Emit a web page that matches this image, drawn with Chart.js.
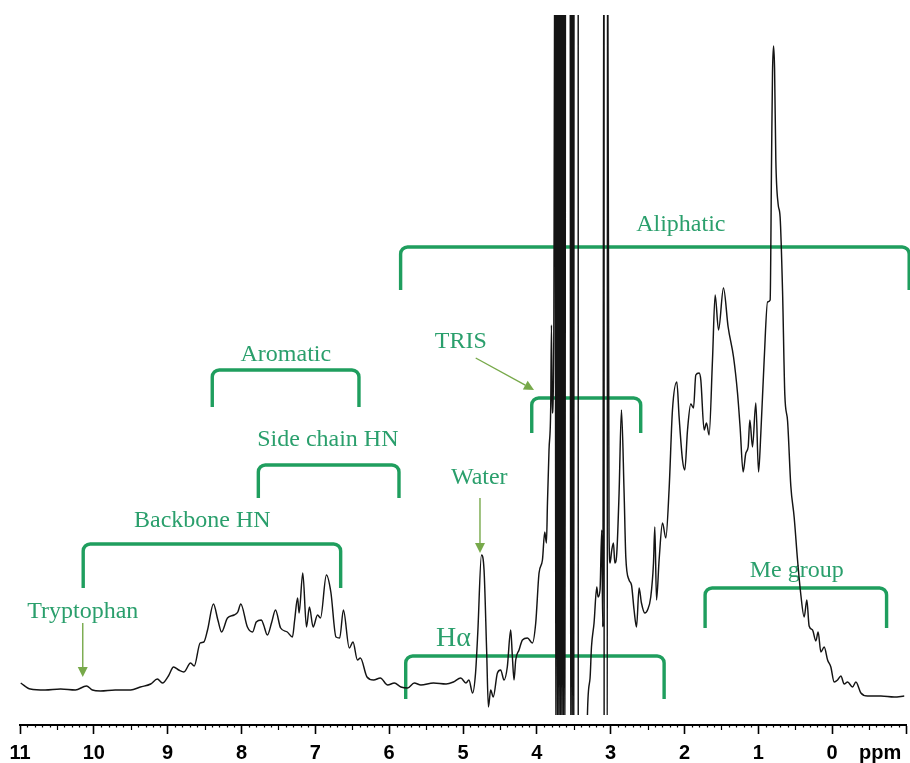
<!DOCTYPE html>
<html><head><meta charset="utf-8">
<script src="https://cdn.jsdelivr.net/npm/chart.js@4.4.1/dist/chart.umd.min.js"></script>
<style>html,body{margin:0;padding:0;background:#fff;}canvas{display:block;}</style>
</head><body>
<canvas id="c" width="910" height="763"></canvas>
<script>
// Chemical shift (ppm) and intensity (arbitrary units)
const ppm = [
 10.99,10.86,10.66,10.45,10.25,10.10,10.02,9.91,9.71,9.50,9.37,9.23,9.14,9.07,8.99,8.92,8.85,8.78,8.69,8.64,
 8.56,8.51,8.46,8.38,8.32,8.27,8.19,8.10,8.05,8.01,7.92,7.85,7.80,7.73,7.70,7.65,7.59,7.54,7.47,7.38,
 7.31,7.28,7.24,7.22,7.17,7.12,7.08,7.03,6.97,6.93,6.85,6.79,6.72,6.67,6.62,6.54,6.49,6.43,6.39,6.30,
 6.21,6.12,6.02,5.93,5.84,5.75,5.66,5.57,5.40,5.23,5.13,5.03,4.96,4.92,4.87,4.83,4.80,4.75,4.715,4.68,
 4.656,4.625,4.59,4.534,4.49,4.444,4.40,4.354,4.331,4.309,4.286,4.241,4.195,4.127,4.06,4.015,3.97,3.924,3.893,3.870,
 3.856,3.835,3.812,3.802,3.791,3.771,
 3.752,3.742,3.731,3.720,3.710,3.700,3.690,3.680,3.670,3.660,3.650,3.640,3.630,3.620,3.610,
 3.550,3.540,3.530,3.520,3.510,3.500,3.496,3.440,3.439,3.330,
 3.314,3.279,3.260,3.225,3.188,3.171,3.144,3.121,3.107,3.090,3.088,3.046,3.043,
 3.022,3.008,2.985,2.962,2.944,2.917,2.886,2.854,2.818,2.795,2.751,2.718,2.683,2.650,2.615,2.583,2.538,2.501,2.457,2.420,
 2.402,2.379,2.344,2.298,2.253,2.209,2.163,2.104,2.073,2.027,1.996,1.959,1.915,1.878,1.847,1.802,1.779,1.734,1.702,1.667,
 1.621,1.585,1.539,1.472,1.409,1.336,1.282,1.247,1.206,1.169,1.138,1.115,1.079,1.034,0.997,0.966,0.921,0.875,0.840,0.821,
 0.808,0.794,0.780,0.763,0.732,0.705,0.672,0.641,0.604,0.560,0.515,0.469,0.424,0.379,0.343,0.312,0.266,0.221,0.190,0.153,
 0.108,0.062,0.018,-0.027,-0.073,-0.118,-0.163,-0.209,-0.276,-0.321,-0.389,-0.480,-0.660,-0.840,-0.976
];
const intensity = [
 42,36,35,36,35,39,35,34,35,35,38,41,46,42,49,58,55,53,62,59,
 82,83,95,121,105,93,107,110,113,121,98,93,103,105,100,90,103,115,97,93,
 88,105,127,112,152,98,118,98,110,107,150,133,88,87,115,77,83,65,67,48,
 45,47,40,42,38,37,42,40,42,41,43,47,42,45,32,52,92,170,155,75,
 18,35,28,52,55,45,58,95,68,45,65,75,85,87,82,102,152,165,193,182,
 222,275,318,400,312,380,
 900,-100,900,-100,900,-100,900,-100,900,-100,900,-100,900,-100,900,
 900,-100,900,-100,900,-100,900,900,-100,-100,
 12,47,78,102,138,128,135,195,98,900,-100,-100,900,
 192,162,175,182,162,172,232,315,232,168,145,140,115,98,137,122,112,115,128,162,
 198,125,165,202,187,235,315,343,308,265,255,295,321,317,350,352,345,295,302,290,
 365,430,395,437,398,368,332,298,253,272,278,305,278,322,253,292,365,423,425,565,
 652,679,656,565,521,508,434,330,304,239,208,165,130,108,125,99,95,84,93,73,
 78,65,58,43,45,49,41,43,38,43,32,29,29,28,29
];
// Axis tick values (ppm)
const tickValues = [11,10,9,8,7,6,5,4,3,2,1,0];
const axisUnit = 'ppm';

// Region annotations (ppm range, bracket level and leg end in intensity units)
const brackets = [
  {from: 5.845, to: -1.043, top: 478, leg: 435},   // Aliphatic
  {from: 8.396, to: 6.409, top: 355, leg: 318},    // Aromatic
  {from: 7.772, to: 5.867, top: 260, leg: 227},    // Side chain HN
  {from: 10.144, to: 6.657, top: 181, leg: 137},   // Backbone HN
  {from: 4.069, to: 2.593, top: 327, leg: 292},    // TRIS
  {from: 5.776, to: 2.276, top: 69, leg: 26},      // H alpha
  {from: 1.721, to: -0.737, top: 137, leg: 97}     // Me group
];
const labels = [
  {text: 'Aliphatic', at: 2.05, v: 500, size: 24},
  {text: 'Aromatic', at: 7.40, v: 370, size: 24},
  {text: 'Side chain HN', at: 6.83, v: 285, size: 24},
  {text: 'Backbone HN', at: 8.53, v: 204, size: 24},
  {text: 'TRIS', at: 5.03, v: 383, size: 24},
  {text: 'Water', at: 4.78, v: 247, size: 24},
  {text: 'H\u03b1', at: 5.13, v: 86, size: 28},
  {text: 'Me group', at: 0.48, v: 154, size: 24},
  {text: 'Tryptophan', at: 10.15, v: 113, size: 24}
];
const arrows = [
  {x1: 4.828, y1: 367, x2: 4.038, y2: 335},
  {x1: 4.77, y1: 227, x2: 4.77, y2: 172},
  {x1: 10.15, y1: 102, x2: 10.15, y2: 48}
];

const BRACKET = '#1f9e5e', TEXT = '#2a9f6c', ARROW = '#77a94a';

const annotPlugin = {
  id: 'annot',
  beforeDatasetsDraw(chart) {
    const {ctx, scales: {x, y}} = chart;
    ctx.save();
    ctx.strokeStyle = BRACKET; ctx.lineWidth = 3.4; ctx.lineJoin = 'round';
    brackets.forEach(b => {
      const x1 = x.getPixelForValue(b.from), x2 = x.getPixelForValue(b.to);
      const yt = y.getPixelForValue(b.top), yl = y.getPixelForValue(b.leg);
      const r = 7;
      ctx.beginPath();
      ctx.moveTo(x1, yl);
      ctx.lineTo(x1, yt + r);
      ctx.arcTo(x1, yt, x1 + r, yt, r);
      ctx.lineTo(x2 - r, yt);
      ctx.arcTo(x2, yt, x2, yt + r, r);
      ctx.lineTo(x2, yl);
      ctx.stroke();
    });
    ctx.strokeStyle = ARROW; ctx.fillStyle = ARROW; ctx.lineWidth = 1.4;
    arrows.forEach(a => {
      const x1 = x.getPixelForValue(a.x1), y1 = y.getPixelForValue(a.y1);
      const x2 = x.getPixelForValue(a.x2), y2 = y.getPixelForValue(a.y2);
      const ang = Math.atan2(y2 - y1, x2 - x1), hl = 10, hw = 5;
      const bx = x2 - hl * Math.cos(ang), by = y2 - hl * Math.sin(ang);
      ctx.beginPath(); ctx.moveTo(x1, y1); ctx.lineTo(bx, by); ctx.stroke();
      ctx.beginPath();
      ctx.moveTo(x2, y2);
      ctx.lineTo(bx + hw * Math.sin(ang), by - hw * Math.cos(ang));
      ctx.lineTo(bx - hw * Math.sin(ang), by + hw * Math.cos(ang));
      ctx.closePath(); ctx.fill();
    });
    ctx.fillStyle = TEXT; ctx.textAlign = 'center'; ctx.textBaseline = 'middle';
    labels.forEach(l => {
      ctx.font = l.size + 'px "Liberation Serif", "Times New Roman", serif';
      ctx.fillText(l.text, x.getPixelForValue(l.at), y.getPixelForValue(l.v));
    });
    ctx.restore();
  },
  afterDraw(chart) {
    const {ctx, chartArea, scales: {x}} = chart;
    ctx.save();
    ctx.strokeStyle = '#000'; ctx.lineWidth = 1.2;
    for (let i = -10; i <= 110; i++) {
      if (i % 10 === 0) continue;
      const len = (i % 5 === 0) ? 5 : 2.5;
      const px = Math.round(x.getPixelForValue(i / 10)) + 0.5;
      ctx.beginPath(); ctx.moveTo(px, chartArea.bottom); ctx.lineTo(px, chartArea.bottom + len); ctx.stroke();
    }
    ctx.fillStyle = '#000'; ctx.textAlign = 'center'; ctx.textBaseline = 'middle';
    ctx.font = 'bold 20px "Liberation Sans", Arial, sans-serif';
    ctx.fillText(axisUnit, x.getPixelForValue(-0.65), 753);
    ctx.restore();
  }
};

new Chart(document.getElementById('c'), {
  type: 'line',
  data: {
    datasets: [{
      data: ppm.map((p, i) => ({x: p, y: intensity[i]})),
      borderColor: '#141414', borderWidth: 1.45, pointRadius: 0,
      cubicInterpolationMode: 'monotone', fill: false,
      clip: {left: 0, top: 0, right: 0, bottom: -10}
    }]
  },
  options: {
    responsive: false, animation: false, devicePixelRatio: 1,
    layout: {padding: {left: 20, right: 4, top: 15, bottom: 0}},
    plugins: {legend: {display: false}, tooltip: {enabled: false}},
    scales: {
      x: {
        type: 'linear', reverse: true, min: -1, max: 11,
        afterFit: s => { s.height = 38; },
        afterBuildTicks: s => { s.ticks = [-1].concat(tickValues.slice().reverse()).map(v => ({value: v})); },
        ticks: {
          autoSkip: false, maxRotation: 0, padding: 7, color: '#000',
          font: {family: '"Liberation Sans", Arial, sans-serif', size: 20, weight: 'bold'},
          callback: v => tickValues.includes(v) ? String(v) : ''
        },
        grid: {display: true, drawOnChartArea: false, drawTicks: true, tickLength: 9, tickWidth: 1.6, tickColor: '#000'},
        border: {display: true, color: '#000', width: 2}
      },
      y: {display: false, min: 0, max: 710}
    }
  },
  plugins: [annotPlugin]
});
</script>
</body></html>
